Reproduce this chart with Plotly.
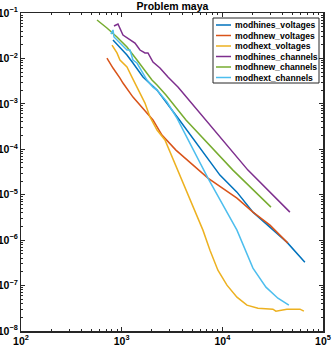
import plotly.graph_objects as go

# ---- data ----
series_names = ["modhines_voltages", "modhnew_voltages", "modhext_voltages",
                "modhines_channels", "modhnew_channels", "modhext_channels"]

hines_v_x = [820, 962, 1129, 1295, 1452, 1629, 2244, 2818, 3624, 9461, 13970, 20140, 29720, 43750, 66070]
hines_v_y = [2.54e-2, 1.78e-2, 1.19e-2, 7.93e-3, 5.55e-3, 3.89e-3, 2.01e-3, 1.04e-3, 4.87e-4,
             2.70e-5, 1.14e-5, 4.14e-6, 1.93e-6, 9.04e-7, 3.28e-7]

hnew_v_x = [714, 820, 962, 1030, 1295, 1629, 2047, 2514, 2754, 3460, 7197, 9461, 13970, 20140, 29720, 44770]
hnew_v_y = [1.02e-2, 6.15e-3, 3.70e-3, 2.87e-3, 1.41e-3, 8.08e-4, 4.40e-4, 2.06e-4, 1.68e-4,
            9.60e-5, 2.32e-5, 1.55e-5, 8.41e-6, 4.14e-6, 2.14e-6, 8.59e-7]

hext_v_x = [802, 898, 962, 1129, 1265, 1419, 1704, 1911, 2244, 2692, 6417, 7536, 9036, 11110,
            13970, 17550, 22590, 31790, 34040, 43750, 59000, 64570]
hext_v_y = [1.97e-2, 1.32e-2, 9.23e-3, 6.47e-3, 3.89e-3, 2.34e-3, 1.04e-3, 5.12e-4, 2.65e-4, 1.60e-4,
            1.66e-6, 6.02e-7, 2.18e-7, 1.02e-7, 5.55e-8, 3.70e-8, 3.18e-8, 3.02e-8, 2.73e-8,
            3.02e-8, 3.02e-8, 2.73e-8]

hines_c_x = [839, 919, 1030, 1155, 1356, 1520, 1704, 1825, 2047, 2401, 2884, 3624, 6871, 17960, 46880]
hines_c_y = [5.17e-2, 5.73e-2, 3.27e-2, 2.81e-2, 2.18e-2, 1.53e-2, 1.32e-2, 1.32e-2, 8.34e-3,
             6.15e-3, 3.89e-3, 2.34e-3, 4.40e-4, 3.48e-5, 4.14e-6]

hnew_c_x = [569, 714, 898, 1129, 1419, 1784, 2000, 2244, 2754, 3624, 4352, 12740, 30410]
hnew_c_y = [7.01e-2, 4.68e-2, 2.96e-2, 1.78e-2, 9.23e-3, 4.77e-3, 3.34e-3, 2.59e-3, 1.56e-3,
            7.30e-4, 4.40e-4, 3.48e-5, 5.33e-6]

hext_c_x = [783, 820, 839, 962, 1129, 1209, 1295, 1419, 1629, 1784, 2047, 2244, 2818, 3541,
            7197, 9461, 13970, 20140, 27120, 35650, 45810]
hext_c_y = [3.44e-2, 4.23e-2, 2.96e-2, 2.18e-2, 1.53e-2, 1.53e-2, 9.23e-3, 7.93e-3, 4.77e-3,
            3.34e-3, 2.34e-3, 2.01e-3, 1.10e-3, 4.87e-4, 2.32e-5, 7.60e-6, 1.66e-6, 2.42e-7,
            9.22e-8, 5.27e-8, 3.70e-8]

xs = [hines_v_x, hnew_v_x, hext_v_x, hines_c_x, hnew_c_x, hext_c_x]
ys = [hines_v_y, hnew_v_y, hext_v_y, hines_c_y, hnew_c_y, hext_c_y]

title_text = "Problem maya"

# ---- styles ----
colors = ["#0072BD", "#D95319", "#EDB120", "#7E2F8E", "#77AC30", "#4DBEEE"]
FONT = "Liberation Sans"
AXC = "#262626"

fig = go.Figure()
for name, x, y, c in zip(series_names, xs, ys, colors):
    fig.add_trace(go.Scatter(x=x, y=y, mode="lines", name=name,
                             line=dict(color=c, width=1.5), showlegend=False))

axis_common = dict(
    type="log", showgrid=False, zeroline=False,
    showline=True, linecolor=AXC, linewidth=1.5, mirror="allticks",
    ticks="inside", ticklen=4, tickwidth=1, tickcolor=AXC,
    dtick=1, exponentformat="power", showexponent="all",
    tickfont=dict(family=FONT, size=8.4, color="#000000", weight="bold"),
    minor=dict(ticks="inside", ticklen=2, tickwidth=1, tickcolor=AXC, dtick="D1", showgrid=False),
    automargin=False,
)

fig.update_xaxes(range=[2, 5], **axis_common)
fig.update_yaxes(range=[-8, -1], **axis_common)

# manual legend (MATLAB-style compact box)
W, H = 332, 347
L, R, T, B = 21, 9, 13, 16
pw, ph = W - L - R, H - T - B

def px(x):
    return (x - L) / pw

def py(y):
    return (H - B - y) / ph

shapes = [dict(type="rect", xref="paper", yref="paper",
               x0=px(213), x1=px(319), y0=py(83), y1=py(18),
               line=dict(color="#262626", width=1), fillcolor="white", layer="above")]
annotations = []
row0, step = 25.0, 10.5
for i, (name, c) in enumerate(zip(series_names, colors)):
    yy = row0 + i * step
    shapes.append(dict(type="line", xref="paper", yref="paper",
                       x0=px(216), x1=px(231), y0=py(yy), y1=py(yy),
                       line=dict(color=c, width=1.5), layer="above"))
    annotations.append(dict(text=name, xref="paper", yref="paper",
                            x=px(233), y=py(yy), xanchor="left", yanchor="middle",
                            showarrow=False,
                            font=dict(family=FONT, size=8.6, color="#000000", weight="bold")))

fig.update_layout(
    width=W, height=H,
    margin=dict(l=L, r=R, t=T, b=B, pad=0),
    paper_bgcolor="white", plot_bgcolor="white",
    template="none",
    title=dict(text=title_text, x=px(172.5), xref="paper", xanchor="center",
               y=1 - 6 / H, yanchor="middle",
               font=dict(family=FONT, size=10.5, color="#000000", weight="bold")),
    shapes=shapes, annotations=annotations,
    showlegend=False,
)

fig.write_html("out.html",
               config={"displayModeBar": False, "staticPlot": True},
               post_script="document.body.style.margin='0';document.body.style.padding='0';")
